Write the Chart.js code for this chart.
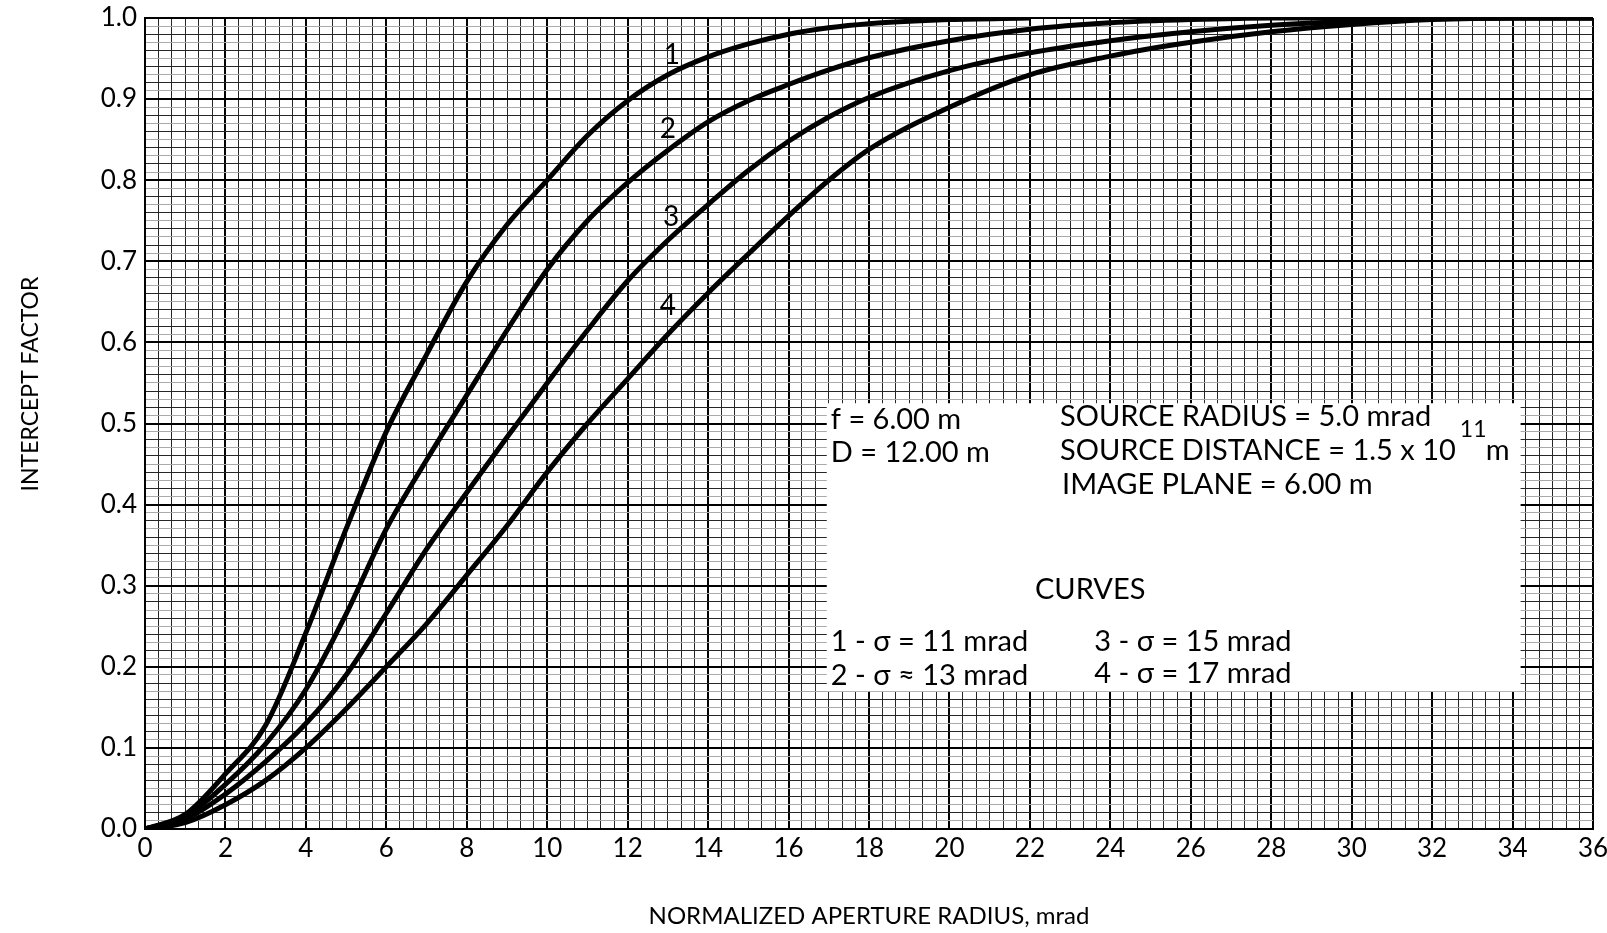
<!DOCTYPE html>
<html>
<head>
<meta charset="utf-8">
<script src="https://cdn.jsdelivr.net/npm/chart.js@4.4.1/dist/chart.umd.min.js"></script>
<style>
    html, body { margin: 0; padding: 0; background: #fff; }
    #wrap { width: 1607px; height: 933px; }
</style>
</head>
<body>
<div id="wrap"><canvas id="myChart" width="1607" height="933"></canvas></div>
<script>
// normalized aperture radius, mrad
var aperture = [0, 1, 2, 3, 4, 5, 6, 7, 8, 9, 10, 11, 12, 13, 14, 15, 16, 17, 18, 20, 22, 24, 26, 28, 30, 32, 34, 36];

// intercept factor for each curve
var sigma11 = [0, 0.018, 0.068, 0.128, 0.242, 0.37, 0.49, 0.585, 0.675, 0.745, 0.80, 0.855, 0.898, 0.93, 0.952, 0.968, 0.98, 0.988, 0.993, 0.998, 1.0];
var sigma13 = [0, 0.015, 0.055, 0.105, 0.172, 0.265, 0.37, 0.455, 0.535, 0.615, 0.69, 0.75, 0.797, 0.837, 0.872, 0.898, 0.918, 0.936, 0.951, 0.972, 0.986, 0.994, 0.998, 1.0, 1.0, 1.0, 1.0, 1.0];
var sigma15 = [0, 0.012, 0.043, 0.083, 0.13, 0.19, 0.266, 0.345, 0.415, 0.483, 0.55, 0.615, 0.676, 0.726, 0.77, 0.812, 0.848, 0.878, 0.902, 0.935, 0.957, 0.972, 0.983, 0.991, 0.996, 0.999, 1.0, 1.0];
var sigma17 = [0, 0.008, 0.03, 0.06, 0.10, 0.148, 0.2, 0.253, 0.313, 0.374, 0.44, 0.50, 0.555, 0.61, 0.661, 0.709, 0.756, 0.8, 0.838, 0.89, 0.93, 0.953, 0.97, 0.983, 0.992, 0.998, 1.0, 1.0];

var curveNames = ["1", "2", "3", "4"];
// where the curve numbers sit, in data units
var curveLabelX = [13.1, 13.0, 13.08, 13.0];
var curveLabelY = [0.954, 0.863, 0.755, 0.645];

var xTitle = "NORMALIZED APERTURE RADIUS, mrad";
var yTitle = "INTERCEPT FACTOR";

function toPoints(values) {
    return values.map(function (v, i) {
        return { x: aperture[i], y: v };
    });
}

function curveDataset(values) {
    return {
        data: toPoints(values),
        borderColor: "#000",
        borderWidth: 5,
        pointRadius: 0,
        fill: false,
        cubicInterpolationMode: "monotone",
    };
}

var FONT = "Lato, 'Open Sans', sans-serif";

// the notes box and the curve numbers
var notesPlugin = {
    id: "notes",
    beforeDatasetsDraw: function (chart) {
        var ctx = chart.ctx;
        var xs = chart.scales.x;
        var ys = chart.scales.y;
        var px = function (v) { return xs.getPixelForValue(v); };
        var py = function (v) { return ys.getPixelForValue(v); };

        ctx.save();
        ctx.fillStyle = "#fff";
        var bx = px(16.95), by = py(0.525);
        ctx.fillRect(bx, by, px(34.2) - bx, py(0.17) - by);

        ctx.fillStyle = "#000";
        ctx.textBaseline = "middle";
        ctx.textAlign = "left";
        ctx.font = "29px " + FONT;
        ctx.fillText("f = 6.00 m", px(17.05), py(0.505));
        ctx.fillText("D = 12.00 m", px(17.05), py(0.464));
        ctx.fillText("SOURCE RADIUS = 5.0 mrad", px(22.75), py(0.509));
        var dist = "SOURCE DISTANCE = 1.5 x 10";
        ctx.fillText(dist, px(22.75), py(0.467));
        var w = ctx.measureText(dist).width;
        ctx.font = "23px " + FONT;
        ctx.fillText("11", px(22.75) + w + 4, py(0.467) - 21);
        ctx.font = "29px " + FONT;
        ctx.fillText("m", px(22.75) + w + 30, py(0.467));
        ctx.fillText("IMAGE PLANE = 6.00 m", px(22.8), py(0.425));

        ctx.textAlign = "center";
        ctx.fillText("CURVES", px(23.5), py(0.295));
        ctx.textAlign = "left";
        ctx.fillText("1 - \u03c3 = 11 mrad", px(17.05), py(0.231));
        ctx.fillText("2 - \u03c3 \u2248 13 mrad", px(17.05), py(0.189));
        ctx.fillText("3 - \u03c3 = 15 mrad", px(23.6), py(0.231));
        ctx.fillText("4 - \u03c3 = 17 mrad", px(23.6), py(0.191));

        ctx.textAlign = "center";
        ctx.font = "28px " + FONT;
        for (var i = 0; i < curveNames.length; i++) {
            ctx.fillText(curveNames[i], px(curveLabelX[i]), py(curveLabelY[i]));
        }
        ctx.restore();
    },
    afterDraw: function (chart) {
        var ctx = chart.ctx;
        ctx.save();
        ctx.translate(31, 384);
        ctx.rotate(-Math.PI / 2);
        ctx.fillStyle = "#000";
        ctx.font = "23px " + FONT;
        ctx.textAlign = "center";
        ctx.textBaseline = "middle";
        ctx.fillText(yTitle, 0, 0);
        ctx.restore();
    },
};

document.addEventListener("DOMContentLoaded", function () {
    var ctx = document.getElementById("myChart").getContext("2d");

    var chart = new Chart(ctx, {
        type: "line",
        data: {
            datasets: [
                curveDataset(sigma11),
                curveDataset(sigma13),
                curveDataset(sigma15),
                curveDataset(sigma17),
            ],
        },
        options: {
            responsive: false,
            animation: false,
            layout: {
                padding: { top: 18, right: 14, left: 0, bottom: 0 },
            },
            scales: {
                x: {
                    type: "linear",
                    min: 0,
                    max: 36,
                    afterBuildTicks: function (axis) {
                        var ticks = [];
                        for (var k = 0; k <= 108; k++) ticks.push({ value: k / 3 });
                        axis.ticks = ticks;
                    },
                    afterFit: function (axis) {
                        axis.height = 104;
                        axis.paddingLeft = 0;
                        axis.paddingRight = 0;
                    },
                    ticks: {
                        autoSkip: false,
                        maxRotation: 0,
                        padding: 4,
                        color: "#000",
                        font: { family: FONT, size: 26 },
                        callback: function (value) {
                            var k = Math.round(value * 3);
                            return k % 6 === 0 ? String(Math.round(value)) : "";
                        },
                    },
                    grid: {
                        drawTicks: false,
                        color: function (c) {
                            var k = Math.round(c.tick.value * 3);
                            return k % 6 === 0 ? "#000" : "#262626";
                        },
                        lineWidth: function (c) {
                            var k = Math.round(c.tick.value * 3);
                            return k % 6 === 0 ? 2 : 1;
                        },
                    },
                    border: { display: true, color: "#000", width: 2 },
                    title: {
                        display: true,
                        text: xTitle,
                        color: "#000",
                        font: { family: FONT, size: 24 },
                        padding: { top: 0, bottom: 2 },
                    },
                },
                y: {
                    type: "linear",
                    min: 0,
                    max: 1,
                    afterBuildTicks: function (axis) {
                        var ticks = [];
                        for (var k = 0; k <= 100; k++) ticks.push({ value: k / 100 });
                        axis.ticks = ticks;
                    },
                    afterFit: function (axis) {
                        axis.width = 145;
                        axis.paddingTop = 0;
                        axis.paddingBottom = 0;
                    },
                    ticks: {
                        autoSkip: false,
                        padding: 8,
                        color: "#000",
                        font: { family: FONT, size: 26 },
                        callback: function (value) {
                            var k = Math.round(value * 100);
                            return k % 10 === 0 ? (k / 100).toFixed(1) : "";
                        },
                    },
                    grid: {
                        drawTicks: false,
                        color: function (c) {
                            var k = Math.round(c.tick.value * 100);
                            if (k % 10 === 0) return "#000";
                            return k % 2 === 0 ? "#262626" : "#aaaaaa";
                        },
                        lineWidth: function (c) {
                            var k = Math.round(c.tick.value * 100);
                            return k % 10 === 0 ? 2 : 1;
                        },
                    },
                    border: { display: true, color: "#000", width: 2 },
                    title: { display: false },
                },
            },
            plugins: {
                legend: { display: false },
                tooltip: { enabled: false },
            },
        },
        plugins: [notesPlugin],
    });
});
</script>
</body>
</html>
